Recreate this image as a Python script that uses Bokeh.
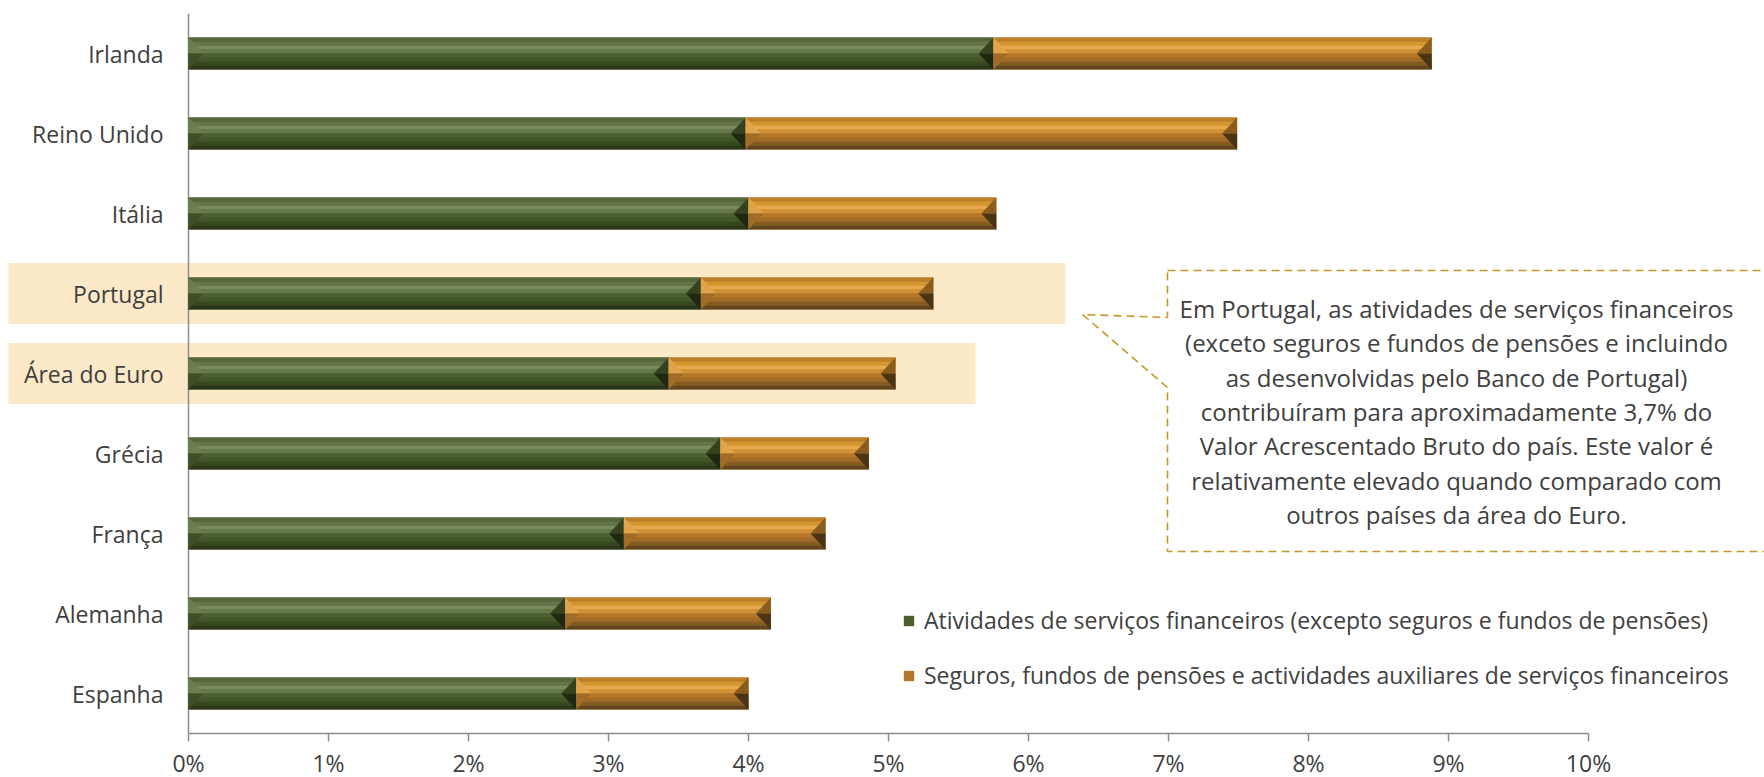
from bokeh.plotting import figure
from bokeh.models import (FixedTicker, BoxAnnotation, PolyAnnotation, Label,
                          Legend, LegendItem)
from bokeh.core.properties import value
from bokeh.embed import file_html
from bokeh.resources import INLINE

# ---------------- data ----------------
categories = ["Irlanda", "Reino Unido", "Itália", "Portugal", "Área do Euro",
              "Grécia", "França", "Alemanha", "Espanha"]
financial_services = [5.75, 3.98, 4.00, 3.66, 3.43, 3.80, 3.11, 2.69, 2.77]
insurance_pensions = [3.13, 3.51, 1.77, 1.66, 1.62, 1.06, 1.44, 1.47, 1.23]
x_ticks = [0, 1, 2, 3, 4, 5, 6, 7, 8, 9, 10]
x_tick_labels = ["0%", "1%", "2%", "3%", "4%", "5%", "6%", "7%", "8%", "9%", "10%"]
series_names = ["Atividades de serviços financeiros (excepto seguros e fundos de pensões)",
                "Seguros, fundos de pensões e actividades auxiliares de serviços financeiros"]
highlighted = ["Portugal", "Área do Euro"]
callout_lines = [
    "Em Portugal, as atividades de serviços financeiros",
    "(exceto seguros e fundos de pensões e incluindo",
    "as desenvolvidas pelo Banco de Portugal)",
    "contribuíram para aproximadamente 3,7% do",
    "Valor Acrescentado Bruto do país. Este valor é",
    "relativamente elevado quando comparado com",
    "outros países da área do Euro.",
]

# ---------------- style / layout ----------------
FONT = "Open Sans"
TXT = "#404040"
AXIS = "#8c8c8c"
GOLD = "#C8962A"
PAGE_W = 1764
FRAME_H = 720
FRAME_TOP = 13          # page y of the top of the plotting area
AXIS_X0_PAGE = 188      # page x where 0% sits
PX_X = 140.0            # pixels per 1 %
n = len(categories)
Y0, Y1 = -0.5, n - 0.5
PX_Y = FRAME_H / (Y1 - Y0)


def px_x(page_x):
    return (page_x - AXIS_X0_PAGE) / PX_X


def px_y(page_y):
    return Y1 - (page_y - FRAME_TOP) / PX_Y


BAR_H = 0.4
green_stripes = ["#55683a", "#62754a", "#7a8c5c", "#65784a", "#4c5f2f", "#435628", "#37481f", "#2a3619"]
orange_stripes = ["#bd7e2a", "#d6962f", "#eaab4b", "#d29238", "#b57829", "#a26c26", "#845b22", "#5f4520"]
green_bevel = ["#6b7d4d", "#3e4f25", "#34421f", "#1f2812"]   # left-up, left-low, right-up, right-low
orange_bevel = ["#e0a54c", "#a06c27", "#8a5d1f", "#4a3413"]

ypos = [n - 1 - i for i in range(n)]
left1 = [0.0] * n
right1 = financial_services
left2 = financial_services
right2 = [a + b for a, b in zip(financial_services, insurance_pensions)]

p = figure(frame_width=PAGE_W, frame_height=FRAME_H,
           x_range=(px_x(0), px_x(PAGE_W)), y_range=(Y0, Y1),
           y_axis_location=None,
           output_backend="svg", toolbar_location=None,
           min_border_left=0, min_border_right=0, min_border_top=FRAME_TOP,
           min_border_bottom=44)
p.outline_line_color = None
p.xgrid.visible = False
p.ygrid.visible = False
p.background_fill_color = "white"
p.border_fill_color = "white"

# highlight bands behind Portugal / Área do Euro
hl_right = {"Portugal": px_x(1065), "Área do Euro": px_x(975)}
for cat in highlighted:
    yc = ypos[categories.index(cat)]
    p.add_layout(BoxAnnotation(left=px_x(8), right=hl_right[cat], bottom=yc - 0.38, top=yc + 0.38,
                               fill_color="#FBE9C8", fill_alpha=1.0, line_color=None,
                               level="underlay"))

# vertical category axis line
p.segment(x0=[0], y0=[Y0], x1=[0], y1=[Y1], line_color=AXIS, line_width=1.5)
# category labels
p.text(x=[px_x(163)] * n, y=ypos, text=categories, text_align="right",
       text_baseline="middle", text_font=value(FONT), text_font_size=value("23px"),
       text_color=TXT)


def draw_segments(left, right, stripes, bevel):
    base = p.hbar(y=ypos, left=left, right=right, height=BAR_H, fill_color=stripes[4],
                  line_color=None)
    k = len(stripes)
    sh = BAR_H / k
    for i, col in enumerate(stripes):
        yy = [y + BAR_H / 2 - sh * (i + 0.5) for y in ypos]
        p.hbar(y=yy, left=left, right=right, height=sh * 1.02, fill_color=col, line_color=None)
    b = 15 / PX_X
    h = BAR_H / 2
    shapes = [
        (lambda x0, x1, c: ([x0, x0 + b, x0], [c + h, c, c])),
        (lambda x0, x1, c: ([x0, x0 + b, x0], [c, c, c - h])),
        (lambda x0, x1, c: ([x1, x1 - b, x1], [c + h, c, c])),
        (lambda x0, x1, c: ([x1, x1 - b, x1], [c, c, c - h])),
    ]
    for f, col in zip(shapes, bevel):
        xs, ys = [], []
        for x0, x1, c in zip(left, right, ypos):
            a, bb = f(x0, x1, c)
            xs.append(a)
            ys.append(bb)
        p.patches(xs=xs, ys=ys, fill_color=col, line_color=None)
    return base


r_green = draw_segments(left1, right1, green_stripes, green_bevel)
r_orange = draw_segments(left2, right2, orange_stripes, orange_bevel)

# x axis (value axis), limited to 0..10 %
xa = p.xaxis[0]
xa.bounds = (x_ticks[0], x_ticks[-1])
xa.ticker = FixedTicker(ticks=x_ticks)
xa.major_label_overrides = {t: l for t, l in zip(x_ticks, x_tick_labels)}
xa.minor_tick_line_color = None
xa.major_tick_in = 0
xa.major_tick_out = 8
xa.major_tick_line_color = AXIS
xa.axis_line_color = AXIS
xa.axis_line_width = 1.5
xa.major_tick_line_width = 1.5
xa.major_label_standoff = 5
xa.major_label_text_font = FONT
xa.major_label_text_font_size = "23px"
xa.major_label_text_color = TXT

# legend
legend = Legend(items=[LegendItem(label=series_names[0], renderers=[r_green]),
                       LegendItem(label=series_names[1], renderers=[r_orange])],
                location=(902, 42), orientation="vertical",
                glyph_width=13, glyph_height=13, label_standoff=9,
                label_height=26, spacing=23, padding=0, margin=0,
                border_line_color=None, background_fill_alpha=0,
                label_text_font=FONT, label_text_font_size="23px", label_text_color=TXT)
p.add_layout(legend)

# callout box with pointer
cx = [px_x(1167), px_x(1900), px_x(1900), px_x(1167), px_x(1167), px_x(1082), px_x(1167)]
cy = [px_y(270), px_y(270), px_y(551), px_y(551), px_y(387), px_y(314), px_y(317)]
p.add_layout(PolyAnnotation(xs=cx, ys=cy, fill_alpha=0, line_color=GOLD, line_alpha=1.0,
                            line_width=1.6, line_dash="8 5"))
for i, line in enumerate(callout_lines):
    p.add_layout(Label(x=px_x(1456), y=px_y(308 + 34.3 * i), text=line,
                       text_align="center", text_baseline="middle",
                       text_font=FONT, text_font_size="24px", text_color=TXT))

open("out.html", "w").write(file_html(p, INLINE))
